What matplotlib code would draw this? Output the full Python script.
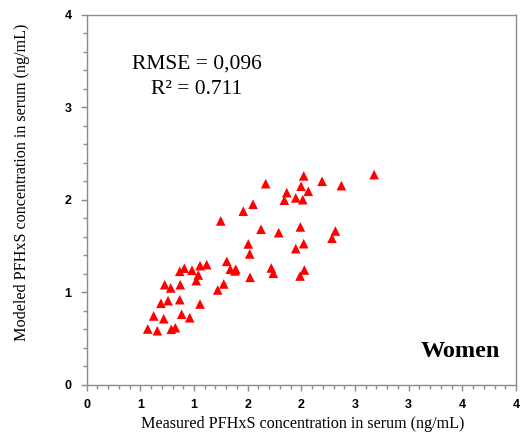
import numpy as np
import matplotlib
matplotlib.use("Agg")
import matplotlib.pyplot as plt
from matplotlib.ticker import MultipleLocator

# Measured vs. modeled serum PFHxS (ng/mL), women
measured = [0.569, 0.658, 0.788, 0.826, 0.624, 0.718, 0.885, 0.960, 0.692, 0.758,
            0.867, 1.056, 0.727, 0.783, 0.872, 1.221, 1.277, 0.867, 0.910, 0.981,
            1.056, 1.118, 1.040, 1.021, 1.305, 1.338, 1.382, 1.389, 1.522, 1.506,
            1.519, 1.624, 1.249, 1.459, 1.550, 1.668, 1.720, 1.739, 1.789, 2.022,
            1.997, 2.065, 1.864, 1.842, 1.948, 2.013, 2.193, 2.373, 2.678, 1.991,
            2.317, 2.286, 1.948, 2.022, 2.028, 1.988]
modeled = [0.603, 0.584, 0.600, 0.617, 0.744, 0.714, 0.762, 0.725, 0.881, 0.909,
           0.920, 0.873, 1.082, 1.047, 1.082, 1.025, 1.090, 1.227, 1.260, 1.238,
           1.288, 1.299, 1.187, 1.126, 1.335, 1.249, 1.231, 1.249, 1.162, 1.523,
           1.415, 1.682, 1.772, 1.877, 1.952, 2.175, 1.263, 1.206, 1.645, 2.259,
           2.147, 2.093, 2.078, 1.996, 2.021, 2.002, 2.201, 2.154, 2.273, 1.707,
           1.663, 1.584, 1.472, 1.526, 1.241, 1.176]

x_ticks = [0, 0.5, 1, 1.5, 2, 2.5, 3, 3.5, 4]
x_tick_labels = ["0", "1", "1", "2", "2", "3", "3", "4", "4"]
y_ticks = [0, 1, 2, 3, 4]
y_tick_labels = ["0", "1", "2", "3", "4"]

fig = plt.figure(figsize=(5.2, 4.33), dpi=100)
ax = fig.add_axes([0.1667, 0.1115, 0.8256, 0.8539])

ax.scatter(measured, modeled, marker="^", s=48, color="#ff0000",
           edgecolors="none", zorder=3)

ax.set_xlim(0, 4)
ax.set_ylim(0, 4)

axis_grey = "#8c8c8c"
for sp in ax.spines.values():
    sp.set_color(axis_grey)
    sp.set_linewidth(1.0)

ax.set_xticks(x_ticks, labels=x_tick_labels)
ax.set_yticks(y_ticks, labels=y_tick_labels)
ax.xaxis.set_minor_locator(MultipleLocator(0.1))
ax.yaxis.set_minor_locator(MultipleLocator(0.2))
ax.tick_params(which="both", direction="out", color=axis_grey, width=1.0)
ax.tick_params(which="major", length=4, labelsize=9)
ax.tick_params(axis="x", which="major", pad=6)
ax.tick_params(axis="y", which="major", pad=7)
ax.tick_params(which="minor", length=3)
for lbl in ax.get_xticklabels() + ax.get_yticklabels():
    lbl.set_fontweight("bold")
    lbl.set_family("Liberation Sans")

serif = "Liberation Serif"
ax.set_xlabel("Measured PFHxS concentration in serum (ng/mL)",
              family=serif, fontsize=11.6)
ax.set_ylabel("Modeled PFHxS concentration in serum (ng/mL)",
              family=serif, fontsize=11.6)
ax.xaxis.set_label_coords(0.504, -0.106)
ax.xaxis.label.set_va("center")
ax.yaxis.set_label_coords(-0.151, 0.548)
ax.yaxis.label.set_va("center")

ax.text(0.256, 0.855, "RMSE = 0,096", transform=ax.transAxes, family=serif,
        fontsize=15.5, ha="center", va="baseline")
ax.text(0.255, 0.786, "R² = 0.711", transform=ax.transAxes, family=serif,
        fontsize=15.5, ha="center", va="baseline")
ax.text(0.963, 0.091, "Women", transform=ax.transAxes, family=serif,
        fontsize=17.5, fontweight="bold", ha="right", va="center")

fig.savefig("out.png", dpi=100, facecolor="white")
